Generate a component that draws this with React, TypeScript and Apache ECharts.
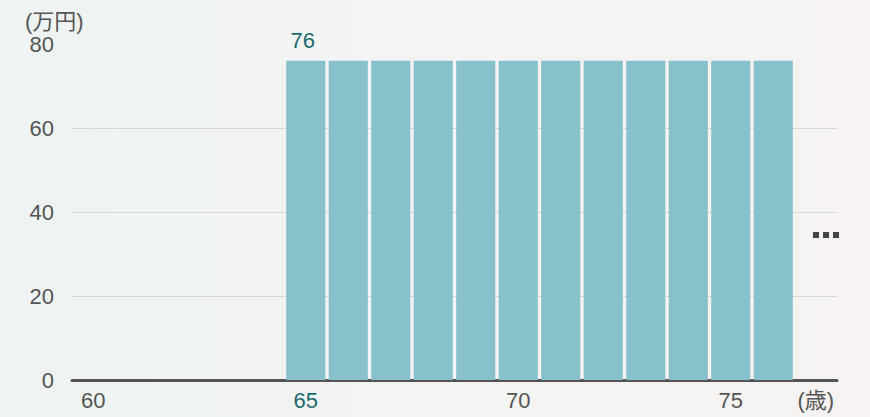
import React, { useEffect, useRef } from "react";
import * as echarts from "echarts";

const ages = ["60","61","62","63","64","65","66","67","68","69","70","71","72","73","74","75","76","77"];
const pension = [0, 0, 0, 0, 0, 76, 76, 76, 76, 76, 76, 76, 76, 76, 76, 76, 76, null];
const labeledAge = "65";
const shownLabelAges = ["60", "65", "70", "75", "77"];
const unitAgeLabel = "(歳)";
const unitYen = "(万円)";
const yTicks = [0, 20, 40, 60, 80];

const FONT = '"Liberation Sans", "Noto Sans CJK JP", sans-serif';
const TEAL = "#1d6a6f";
const GRID = "#d6d6d6";
const lineColors = yTicks.map((t, i) => (i === yTicks.length - 1 ? "rgba(0,0,0,0)" : GRID));

export default function App() {
  const ref = useRef<HTMLDivElement>(null);
  useEffect(() => {
    const chart = echarts.init(ref.current!, null, { renderer: "svg" });
    chart.setOption({
      animation: false,
      textStyle: { fontFamily: FONT },
      grid: { left: 72, right: 33, top: 44, bottom: 37, containLabel: false },
      xAxis: {
        type: "category",
        data: ages,
        boundaryGap: true,
        axisLine: { show: true, lineStyle: { color: "#555", width: 3 } },
        axisTick: { show: false },
        axisLabel: {
          interval: (i: number, v: string) => shownLabelAges.includes(v),
          formatter: (v: string) => (v === "77" ? unitAgeLabel : v),
          color: (v: string) => (v === labeledAge ? TEAL : "#555"),
          fontSize: 22,
          margin: 9,
          fontFamily: FONT,
        },
      },
      yAxis: {
        type: "value",
        min: yTicks[0],
        max: yTicks[yTicks.length - 1],
        interval: 20,
        axisLine: { show: false },
        axisTick: { show: true, length: 17, lineStyle: { color: lineColors } },
        axisLabel: { fontSize: 22, color: "#555", margin: 18, fontFamily: FONT },
        splitLine: { lineStyle: { color: lineColors, width: 1 } },
      },
      graphic: [
        { type: "text", left: 25, top: 10, style: { text: unitYen, fontSize: 22, fill: "#555", fontFamily: FONT } },
        {
          type: "group",
          left: 813,
          top: 232,
          children: [0, 1, 2].map((i) => ({
            type: "rect",
            shape: { x: i * 10, y: 0, width: 6, height: 6 },
            style: { fill: "#444" },
          })),
        },
      ],
      series: [
        {
          type: "bar",
          barCategoryGap: "8%",
          data: pension.map((v, i) =>
            ages[i] === labeledAge
              ? {
                  value: v,
                  label: { show: true, position: "top", distance: 9, offset: [-3, 0], color: TEAL, fontSize: 22, fontFamily: FONT },
                }
              : v
          ),
          itemStyle: { color: "#87c1cc" },
          label: { show: false },
        },
      ],
    });
    return () => chart.dispose();
  }, []);
  return (
    <div
      style={{
        position: "fixed",
        left: 0,
        top: 0,
        width: 870,
        height: 417,
        background: "linear-gradient(90deg, #eef4f3 0%, #f3f4f3 50%, #f6f3f2 100%)",
      }}
    >
      <div ref={ref} style={{ width: 870, height: 417 }} />
    </div>
  );
}
